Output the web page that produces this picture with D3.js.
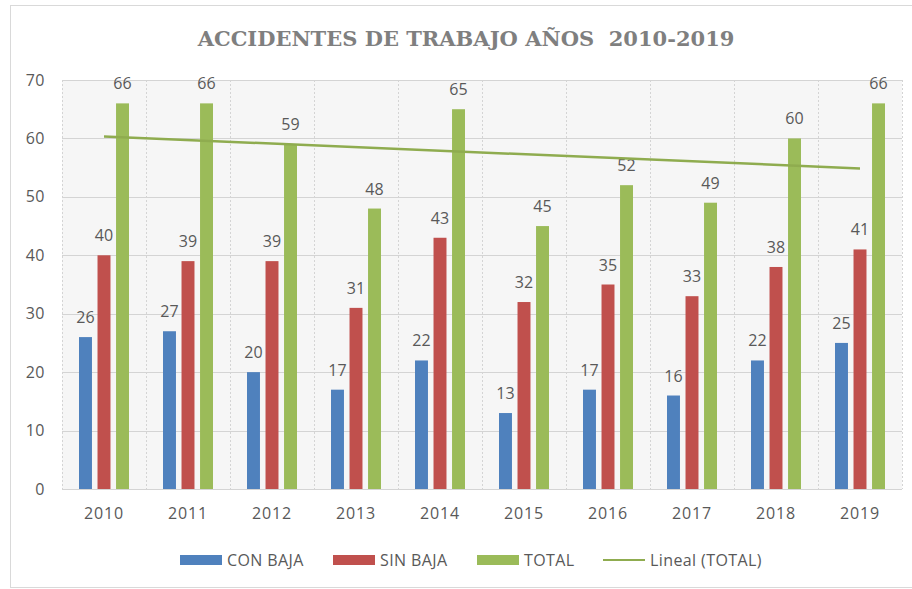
<!DOCTYPE html>
<html>
<head>
<meta charset="utf-8">
<script src="https://cdn.jsdelivr.net/npm/d3@7"></script>
<style>
  body { margin: 0; background: #fff; }
  text { font-family: "Open Sans", sans-serif; fill: #595959; }
</style>
</head>
<body>
<script>
//data
var years = ["2010","2011","2012","2013","2014","2015","2016","2017","2018","2019"];
var conBaja = [26, 27, 20, 17, 22, 13, 17, 16, 22, 25];
var sinBaja = [40, 39, 39, 31, 43, 32, 35, 33, 38, 41];
var total = [66, 66, 59, 48, 65, 45, 52, 49, 60, 66];
var seriesNames = ["CON BAJA", "SIN BAJA", "TOTAL"];
var seriesColors = ["#4f81bd", "#c0504d", "#9bbb59"];
var yTicks = [0, 10, 20, 30, 40, 50, 60, 70];

var outerWidth = 912;
var outerHeight = 589;

var svg = d3.select("body").append("svg")
  .attr("width", outerWidth)
  .attr("height", outerHeight);

//chart border
svg.append("rect")
  .attr("x", 10.5).attr("y", 5.5)
  .attr("width", 920).attr("height", 582)
  .attr("fill", "#fff")
  .attr("stroke", "#d9d9d9");

var plot = {left: 62, right: 902, top: 80, bottom: 489};

//scales
var xScale = d3.scaleBand().domain(years).range([plot.left, plot.right]);
var inner = d3.scaleBand().domain(seriesNames).range([-25, 25]).paddingInner(0.3);
var yScale = d3.scaleLinear().domain([0, 70]).range([plot.bottom, plot.top]);

//plot background
svg.append("rect")
  .attr("x", plot.left).attr("y", plot.top)
  .attr("width", plot.right - plot.left).attr("height", plot.bottom - plot.top)
  .attr("fill", "#f6f6f6");

//horizontal grid
svg.append("g").selectAll("line")
  .data(yTicks)
  .enter().append("line")
  .attr("x1", plot.left).attr("x2", plot.right)
  .attr("y1", (d)=>Math.round(yScale(d)) + 0.5)
  .attr("y2", (d)=>Math.round(yScale(d)) + 0.5)
  .attr("stroke", "#d4d4d4");

//vertical grid at category edges
var edges = years.map((d)=>xScale(d)).concat([plot.right]);
svg.append("g").selectAll("line")
  .data(edges)
  .enter().append("line")
  .attr("x1", (d)=>Math.round(d) + 0.5).attr("x2", (d)=>Math.round(d) + 0.5)
  .attr("y1", plot.top).attr("y2", plot.bottom)
  .attr("stroke", "#d4d4d4")
  .attr("stroke-dasharray", "2,2");

//y axis labels
var yAxis = d3.axisLeft(yScale).tickValues(yTicks).tickSize(0).tickPadding(17);
svg.append("g")
  .attr("transform", "translate(" + plot.left + ",0)")
  .call(yAxis)
  .call((g)=>g.select(".domain").remove())
  .selectAll("text")
  .attr("font-size", 16)
  .attr("font-family", "Open Sans")
  .attr("letter-spacing", 0.5)
  .attr("fill", "#595959");

//x axis labels
var xAxis = d3.axisBottom(xScale).tickSize(0).tickPadding(19);
svg.append("g")
  .attr("transform", "translate(0," + plot.bottom + ")")
  .call(xAxis)
  .call((g)=>g.select(".domain").remove())
  .selectAll("text")
  .attr("font-size", 16)
  .attr("font-family", "Open Sans")
  .attr("letter-spacing", 0.8)
  .attr("fill", "#595959");

//bars
var rows = years.map((y, i)=>({year: y, values: [conBaja[i], sinBaja[i], total[i]]}));
var groups = svg.append("g").selectAll("g")
  .data(rows)
  .enter().append("g")
  .attr("transform", (d)=>"translate(" + (xScale(d.year) + xScale.bandwidth() / 2) + ",0)");

groups.selectAll("rect")
  .data((d)=>d.values.map((v, j)=>({name: seriesNames[j], value: v, color: seriesColors[j]})))
  .enter().append("rect")
  .attr("x", (d)=>inner(d.name))
  .attr("y", (d)=>yScale(d.value))
  .attr("width", inner.bandwidth())
  .attr("height", (d)=>plot.bottom - yScale(d.value))
  .attr("fill", (d)=>d.color);

//trend line (least squares on TOTAL)
var n = total.length;
var mx = d3.mean(d3.range(n));
var my = d3.mean(total);
var sxy = d3.sum(total, (v, i)=>(i - mx) * (v - my));
var sxx = d3.sum(d3.range(n), (i)=>(i - mx) * (i - mx));
var slope = sxy / sxx;
var icpt = my - slope * mx;
var trend = [0, n - 1].map((i)=>({year: years[i], value: icpt + slope * i}));

svg.append("path")
  .datum(trend)
  .attr("fill", "none")
  .attr("stroke", "#8fac4f")
  .attr("stroke-width", 2.5)
  .attr("d", d3.line()
    .x((d)=>xScale(d.year) + xScale.bandwidth() / 2)
    .y((d)=>yScale(d.value)));

//value labels
groups.selectAll("text.val")
  .data((d)=>d.values.map((v, j)=>({name: seriesNames[j], value: v})))
  .enter().append("text")
  .attr("class", "val")
  .attr("x", (d)=>inner(d.name) + inner.bandwidth() / 2)
  .attr("y", (d)=>yScale(d.value) - 14)
  .attr("text-anchor", "middle")
  .attr("font-size", 16)
  .text((d)=>d.value);

//title
svg.append("text")
  .attr("x", 466).attr("y", 46)
  .attr("text-anchor", "middle")
  .attr("font-weight", "bold")
  .attr("font-size", 21)
  .style("font-family", "DejaVu Serif")
  .style("fill", "#7f7f7f")
  .style("white-space", "pre")
  .text("ACCIDENTES DE TRABAJO AÑOS  2010-2019");

//legend
var legendItems = [
  {name: "CON BAJA", color: seriesColors[0], x: 180, type: "bar"},
  {name: "SIN BAJA", color: seriesColors[1], x: 333, type: "bar"},
  {name: "TOTAL", color: seriesColors[2], x: 477, type: "bar"},
  {name: "Lineal (TOTAL)", color: "#8fac4f", x: 603, type: "line"}
];
var legend = svg.append("g").selectAll("g")
  .data(legendItems)
  .enter().append("g")
  .attr("transform", (d)=>"translate(" + d.x + ",560)");

legend.filter((d)=>d.type == "bar").append("rect")
  .attr("x", 0).attr("y", -5)
  .attr("width", 42).attr("height", 10)
  .attr("fill", (d)=>d.color);

legend.filter((d)=>d.type == "line").append("line")
  .attr("x1", 0).attr("x2", 42)
  .attr("stroke", (d)=>d.color)
  .attr("stroke-width", 2);

legend.append("text")
  .attr("x", 47).attr("y", 6)
  .attr("font-size", 16)
  .attr("letter-spacing", 0.4)
  .text((d)=>d.name);
</script>
</body>
</html>
